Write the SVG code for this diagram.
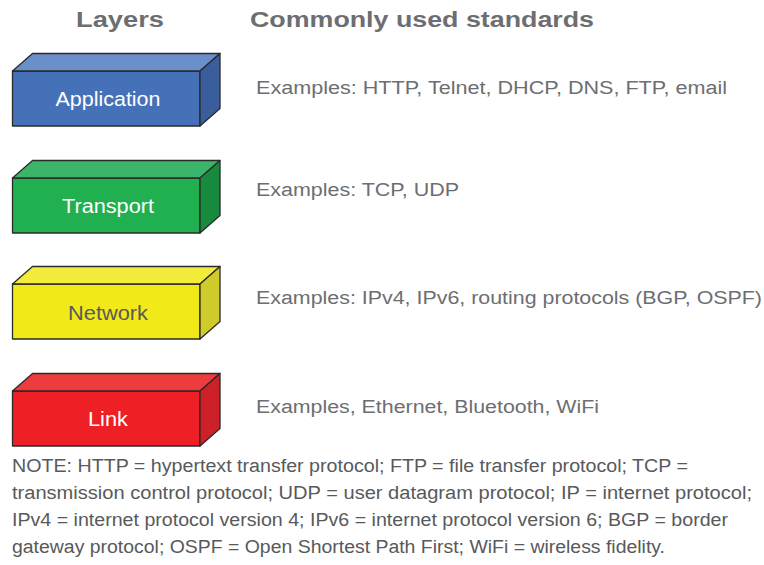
<svg xmlns="http://www.w3.org/2000/svg" width="764" height="565" viewBox="0 0 764 565">
<style>
.edge{stroke:#2b2a2a;stroke-width:1.3;stroke-linejoin:round}
.hdr{font-family:"Liberation Sans",Arial,sans-serif;font-weight:bold;font-size:22.5px;fill:#6d6e71}
.ex{font-family:"Liberation Sans",Arial,sans-serif;font-size:18px;fill:#6d6e71}
.lbl{font-family:"Liberation Sans",Arial,sans-serif;font-size:19.5px;text-anchor:middle}
.note{font-family:"Liberation Sans",Arial,sans-serif;font-size:18px;fill:#58595b}
</style>
<rect width="764" height="565" fill="#ffffff"/>
<text class="hdr" x="76" y="27" textLength="88" lengthAdjust="spacingAndGlyphs">Layers</text>
<text class="hdr" x="250" y="27" textLength="344" lengthAdjust="spacingAndGlyphs">Commonly used standards</text>

<g id="application">
<rect class="edge" x="12.5" y="71" width="187.5" height="55" fill="#4571b9"/>
<polygon class="edge" points="12.5,71 32.5,53.5 220,53.5 200,71" fill="#6a8fcb"/>
<polygon class="edge" points="200,71 220,53.5 220,108.5 200,126" fill="#3a5d9c"/>
<text class="lbl" x="108" y="106" fill="#ffffff" textLength="105" lengthAdjust="spacingAndGlyphs">Application</text>
</g>
<g id="transport">
<rect class="edge" x="12.5" y="178" width="187.5" height="55" fill="#21b04f"/>
<polygon class="edge" points="12.5,178 32.5,160.5 220,160.5 200,178" fill="#3bb56a"/>
<polygon class="edge" points="200,178 220,160.5 220,215.5 200,233" fill="#178a3e"/>
<text class="lbl" x="108" y="213" fill="#ffffff" textLength="92" lengthAdjust="spacingAndGlyphs">Transport</text>
</g>
<g id="network">
<rect class="edge" x="12.5" y="284" width="187.5" height="55" fill="#f2e918"/>
<polygon class="edge" points="12.5,284 32.5,266.5 220,266.5 200,284" fill="#f4ec3a"/>
<polygon class="edge" points="200,284 220,266.5 220,321.5 200,339" fill="#cfcb2a"/>
<text class="lbl" x="108" y="319.5" fill="#58595b" textLength="80" lengthAdjust="spacingAndGlyphs">Network</text>
</g>
<g id="link">
<rect class="edge" x="12.5" y="391" width="187.5" height="55" fill="#ef1f26"/>
<polygon class="edge" points="12.5,391 32.5,373.5 220,373.5 200,391" fill="#ee3b3d"/>
<polygon class="edge" points="200,391 220,373.5 220,428.5 200,446" fill="#ce2028"/>
<text class="lbl" x="108" y="426" fill="#ffffff" textLength="40" lengthAdjust="spacingAndGlyphs">Link</text>
</g>

<g id="connectors"></g>

<text class="ex" x="256" y="94" textLength="471" lengthAdjust="spacingAndGlyphs">Examples: HTTP, Telnet, DHCP, DNS, FTP, email</text>
<text class="ex" x="256" y="196" textLength="203" lengthAdjust="spacingAndGlyphs">Examples: TCP, UDP</text>
<text class="ex" x="256" y="304" textLength="506" lengthAdjust="spacingAndGlyphs">Examples: IPv4, IPv6, routing protocols (BGP, OSPF)</text>
<text class="ex" x="256" y="413" textLength="343" lengthAdjust="spacingAndGlyphs">Examples, Ethernet, Bluetooth, WiFi</text>

<text class="note" x="12" y="472" textLength="676" lengthAdjust="spacingAndGlyphs">NOTE: HTTP = hypertext transfer protocol; FTP = file transfer protocol; TCP =</text>
<text class="note" x="12" y="499" textLength="740" lengthAdjust="spacingAndGlyphs">transmission control protocol; UDP = user datagram protocol; IP = internet protocol;</text>
<text class="note" x="12" y="526" textLength="716" lengthAdjust="spacingAndGlyphs">IPv4 = internet protocol version 4; IPv6 = internet protocol version 6; BGP = border</text>
<text class="note" x="12" y="553" textLength="653" lengthAdjust="spacingAndGlyphs">gateway protocol; OSPF = Open Shortest Path First; WiFi = wireless fidelity.</text>
</svg>
